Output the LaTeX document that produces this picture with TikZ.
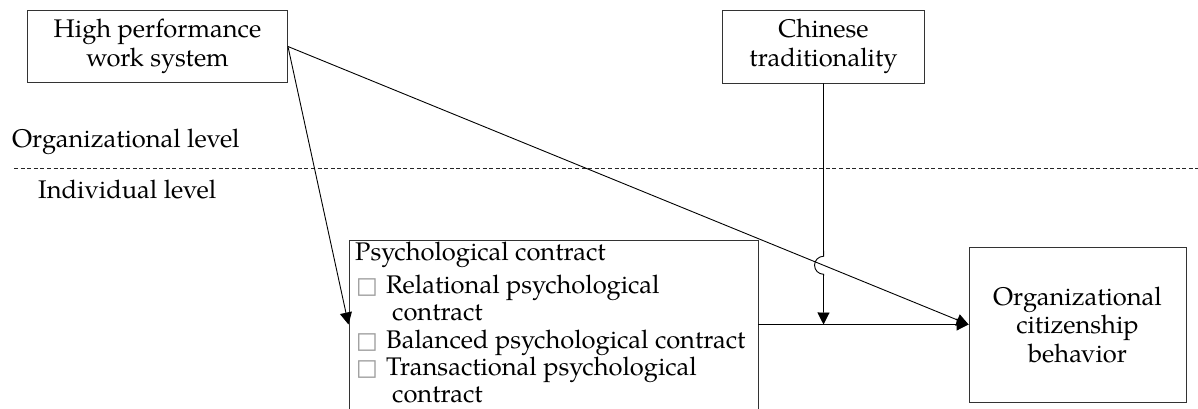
\documentclass[tikz,border=0pt]{standalone}
\usepackage{fontspec}
\setmainfont{texgyrepagella}[Extension=.otf,UprightFont=*-regular]
\newfontfamily\symfont{DejaVu Sans}
\usetikzlibrary{arrows.meta,calc}
\newcommand\sqbul{\makebox[30pt][l]{\symfont\fontsize{23}{23}\selectfont\textcolor{black!40}{□}}}
\begin{document}
\begin{tikzpicture}[x=1pt,y=-1pt,
  txt/.style={font=\fontsize{25.5}{28.5}\selectfont},
  box/.style={draw=black!80,line width=0.9pt,inner sep=0pt,align=center,txt},
  lbl/.style={anchor=base west,inner sep=0pt,txt},
  conn/.style={line width=0.9pt,draw=black},
  tip/.style={-{Triangle[length=12pt,width=12pt]}}]
\clip (0,0) rectangle (1198,409);
\fill[white] (0,0) rectangle (1198,409);
% boxes
\node[box,minimum width=260pt,minimum height=72pt] (hpws) at (157.5,46.5) {High performance\\work system};
\node[box,minimum width=202pt,minimum height=73pt] (ct) at (823.5,46.5) {Chinese\\traditionality};
\node[box,minimum width=217pt,minimum height=155pt] (ocb) at (1077.5,324.5) {Organizational\\citizenship\\behavior};
\node[draw=black!80,line width=0.9pt,minimum width=409pt,minimum height=200pt,anchor=north west,inner sep=0pt] (pc) at (348.5,239.5) {};
% level labels and divider
\node[lbl] (orgl) at (12,147) {Organizational level};
\node[lbl] (indl) at (38,198) {Individual level};
\coordinate (dl) at (14,168.5);
\coordinate (dr) at (1198,168.5);
\draw[black!85,line width=0.8pt,dash pattern=on 4pt off 2.6pt] (dl) -- (dr);
% psychological contract contents
\node[lbl] (pct) at (355,260) {Psychological contract};
\node[lbl] (r1) at (356,293) {\sqbul Relational psychological};
\node[lbl] (r1b) at (392,320) {contract};
\node[lbl] (r2) at (356,348) {\sqbul Balanced psychological contract};
\node[lbl] (r3) at (356,375) {\sqbul Transactional psychological};
\node[lbl] (r3b) at (392,402) {contract};
% connectors
\coordinate (j) at (ct.south |- ocb.west);
\coordinate (pin) at (pc.west |- ocb.west);
\coordinate (pout) at (pc.east |- ocb.west);
\coordinate (x) at (intersection of hpws.east--ocb.west and ct.south--j);
\draw[conn,tip] (hpws.east) -- (pin);
\draw[conn,tip] (hpws.east) -- (ocb.west);
\draw[conn,tip] (pout) -- (ocb.west);
\draw[conn,tip] (ct.south) -- ($(x)+(0,-9)$) arc[start angle=90,end angle=270,radius=9pt] -- (j);
\end{tikzpicture}
\end{document}
